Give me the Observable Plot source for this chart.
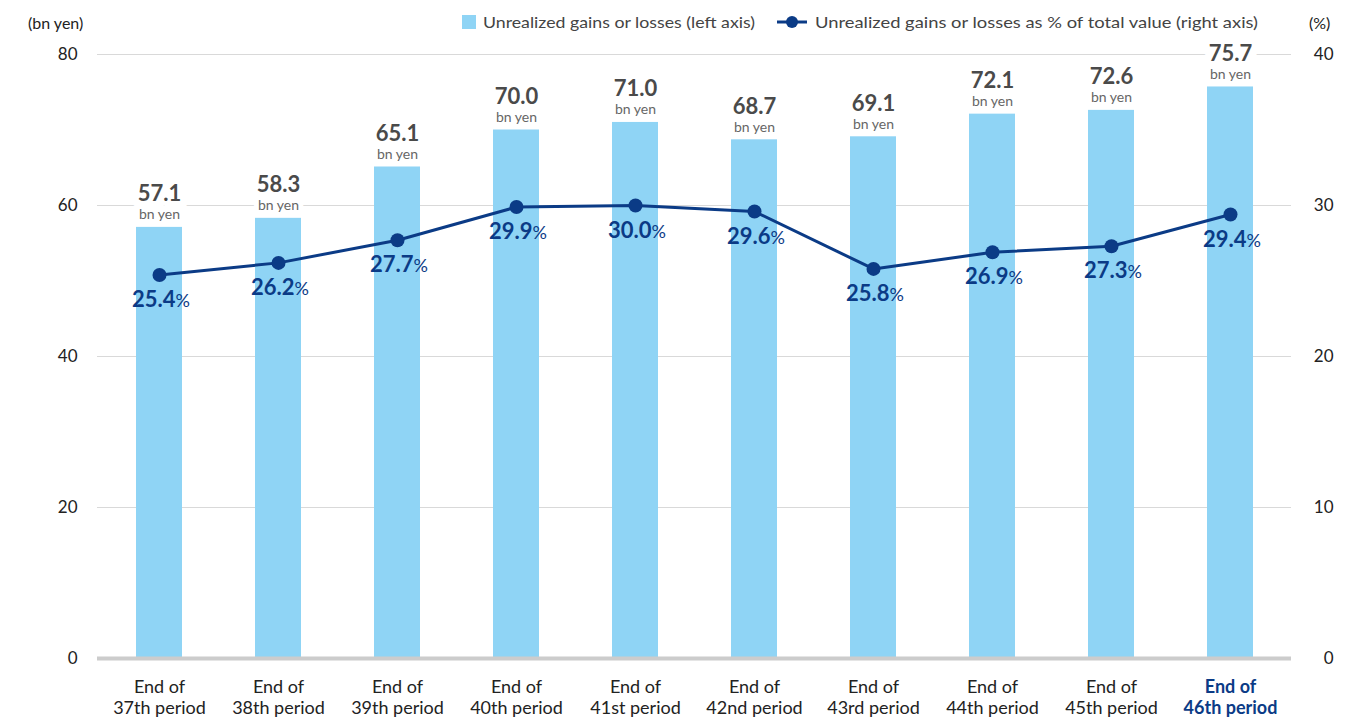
<!DOCTYPE html>
<html><head><meta charset="utf-8">
<script src="https://cdn.jsdelivr.net/npm/d3@7"></script>
<script src="https://cdn.jsdelivr.net/npm/@observablehq/plot@0.6"></script>
<style>
body{margin:0;background:#fff;font-family:Lato,"Noto Sans",sans-serif;}
#wrap{position:relative;width:1371px;height:719px;}
#overlay{position:absolute;left:0;top:0;pointer-events:none;}
</style></head><body><div id="wrap"></div>
<script>
const periods = ["37th","38th","39th","40th","41st","42nd","43rd","44th","45th","46th"];
const periodLabels = ["End of\n37th period","End of\n38th period","End of\n39th period","End of\n40th period","End of\n41st period","End of\n42nd period","End of\n43rd period","End of\n44th period","End of\n45th period","End of\n46th period"];
const gains = [57.1, 58.3, 65.1, 70.0, 71.0, 68.7, 69.1, 72.1, 72.6, 75.7];
const pctValues = [25.4, 26.2, 27.7, 29.9, 30.0, 29.6, 25.8, 26.9, 27.3, 29.4];
const leftTicks = [0, 20, 40, 60, 80];
const rightTicks = [0, 10, 20, 30, 40];
const legendLabels = ["Unrealized gains or losses (left axis)", "Unrealized gains or losses as % of total value (right axis)"];
const unitLeft = "(bn yen)";
const unitRight = "(%)";

const k = leftTicks[leftTicks.length - 1] / rightTicks[rightTicks.length - 1];
const rows = periods.map((p, i) => ({
  period: p, label: periodLabels[i], gain: gains[i], pct: pctValues[i],
  pctScaled: pctValues[i] * k, highlight: i === periods.length - 1
}));

const barColor = "#8fd4f5";
const navy = "#0b3b86";

const chart = Plot.plot({
  width: 1371, height: 719,
  marginLeft: 97, marginRight: 80, marginTop: 54, marginBottom: 61,
  style: {fontFamily: "Lato, 'Noto Sans', sans-serif", background: "white"},
  x: {domain: periods, paddingInner: 0.615, paddingOuter: 0.3, axis: null},
  y: {domain: [0, 80], axis: null},
  marks: [
    Plot.ruleY(leftTicks.filter(d => d > 0), {stroke: "#d9d9d9", strokeWidth: 1}),
    Plot.axisY(leftTicks, {anchor: "left", tickSize: 0, tickPadding: 20, fontSize: 17, fill: "#222"}),
    Plot.axisY(leftTicks, {anchor: "right", tickSize: 0, tickPadding: 42, textAnchor: "end", fontSize: 17, fill: "#222",
      tickFormat: d => String(d / k)}),
    Plot.text(rows, {x: "period", y: "gain", text: d => d.gain.toFixed(1), lineAnchor: "bottom", dy: -26,
      fontSize: 22, fontWeight: "bold", fill: "#4a4a4a", stroke: "white", strokeWidth: 16, paintOrder: "stroke"}),
    Plot.text(rows, {x: "period", y: "gain", text: () => "bn yen", lineAnchor: "bottom", dy: -8,
      fontSize: 14, fill: "#666", stroke: "white", strokeWidth: 10, paintOrder: "stroke"}),
    Plot.barY(rows, {x: "period", y: "gain", fill: barColor}),
    Plot.ruleY([0], {stroke: "#cccccc", strokeWidth: 4}),
    Plot.line(rows, {x: "period", y: "pctScaled", stroke: navy, strokeWidth: 3}),
    Plot.dot(rows, {x: "period", y: "pctScaled", r: 7, fill: navy}),
    Plot.text(rows, {x: "period", y: "pctScaled", text: d => d.pct.toFixed(1), textAnchor: "end", dx: 16,
      lineAnchor: "bottom", dy: 32, fontSize: 22, fontWeight: "bold", fill: navy}),
    Plot.text(rows, {x: "period", y: "pctScaled", text: () => "%", textAnchor: "start", dx: 16,
      lineAnchor: "bottom", dy: 32, fontSize: 18, fill: navy}),
    Plot.text(rows.filter(d => !d.highlight), {x: "period", text: "label", frameAnchor: "bottom",
      lineAnchor: "top", dy: 19, fontSize: 18, lineHeight: 1.2, fill: "#222"}),
    Plot.text(rows.filter(d => d.highlight), {x: "period", text: "label", frameAnchor: "bottom",
      lineAnchor: "top", dy: 19, fontSize: 18, lineHeight: 1.2, fill: navy, fontWeight: "bold"})
  ]
});

const wrap = document.getElementById("wrap");
wrap.appendChild(chart);

const ns = "http://www.w3.org/2000/svg";
const ov = document.createElementNS(ns, "svg");
ov.setAttribute("id", "overlay");
ov.setAttribute("width", 1371);
ov.setAttribute("height", 40);
ov.style.fontFamily = "Lato, 'Noto Sans', sans-serif";
function txt(x, y, s, opts = {}) {
  const t = document.createElementNS(ns, "text");
  t.setAttribute("x", x); t.setAttribute("y", y);
  t.setAttribute("font-size", opts.size || 16);
  t.setAttribute("fill", opts.fill || "#333");
  if (opts.len) { t.setAttribute("textLength", opts.len); t.setAttribute("lengthAdjust", "spacingAndGlyphs"); }
  t.textContent = s;
  ov.appendChild(t);
}
txt(28, 29, unitLeft, {size: 16, fill: "#222"});
txt(1309, 29, unitRight, {size: 16, fill: "#222"});
const sq = document.createElementNS(ns, "rect");
sq.setAttribute("x", 462); sq.setAttribute("y", 15); sq.setAttribute("width", 14); sq.setAttribute("height", 14);
sq.setAttribute("fill", barColor); ov.appendChild(sq);
txt(483, 28, legendLabels[0], {size: 16, fill: "#444", len: 272});
const ln = document.createElementNS(ns, "line");
ln.setAttribute("x1", 777); ln.setAttribute("x2", 807); ln.setAttribute("y1", 22); ln.setAttribute("y2", 22);
ln.setAttribute("stroke", navy); ln.setAttribute("stroke-width", 3); ov.appendChild(ln);
const c = document.createElementNS(ns, "circle");
c.setAttribute("cx", 792); c.setAttribute("cy", 22); c.setAttribute("r", 6); c.setAttribute("fill", navy); ov.appendChild(c);
txt(815, 28, legendLabels[1], {size: 16, fill: "#444", len: 443});
wrap.appendChild(ov);
</script></body></html>
